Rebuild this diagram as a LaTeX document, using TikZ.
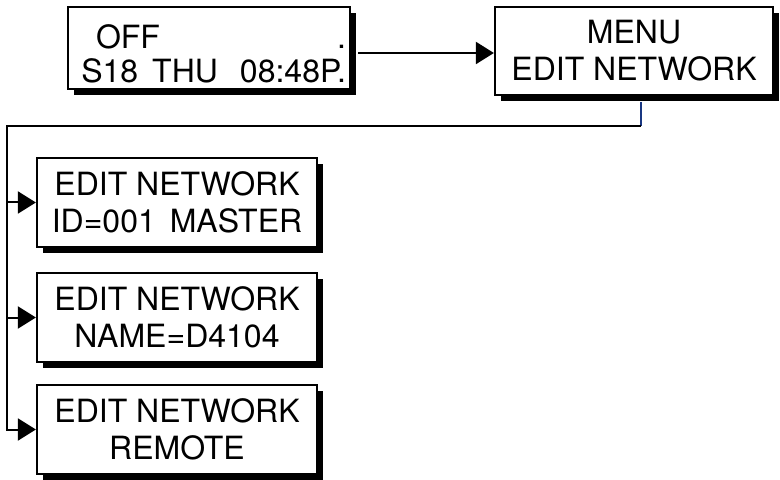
\documentclass[tikz,border=0pt]{standalone}
\usepackage{fontspec}
\setmainfont{TeX Gyre Heros}
\usetikzlibrary{arrows.meta,shadows}
\definecolor{tapblue}{RGB}{25,55,130}
\tikzset{
    screen/.style={draw, line width=1.1pt, fill=white, inner sep=0pt,
        minimum width=140pt, minimum height=44.5pt, align=center,
        font=\fontsize{16}{18.5}\selectfont,
        drop shadow={shadow xshift=3pt, shadow yshift=-3pt, fill=black, opacity=1}},
    flow/.style={line width=1pt, -{Triangle[length=9pt,width=11pt]}}
}
\begin{document}
\begin{tikzpicture}[x=0.5pt,y=-0.5pt]
            \useasboundingbox (0,0) rectangle (780,480);
            \node[screen, minimum width=141pt, minimum height=41pt, align=right, text width=137pt,
                inner xsep=1.5pt, font=\fontsize{16}{17}\selectfont] (idle) at (209,48)
                {\rule{0pt}{17.5pt}\hspace*{12pt}OFF\hfill.\hspace*{8pt}\\S18\hspace{7pt}THU\hspace{11pt}08:48P.};
            \node[screen, minimum width=139pt, minimum height=44pt] (menu) at (634,51) {MENU\\EDIT NETWORK};
            \node[screen] (netid) at (177,202.5) {EDIT NETWORK\\ID=001\hspace{7pt}MASTER};
            \node[screen] (netname) at (177,317.5) {EDIT NETWORK\\NAME=D4104};
            \node[screen] (remote) at (177,429.5) {EDIT NETWORK\\REMOTE};
            \coordinate (tap) at (641,126);
            \coordinate (trunk) at (7,126);
            \draw[flow] ([shift={(3.5pt,-2.5pt)}]idle.east) -- ([yshift=-2.5pt]idle.east -| menu.west);
            \draw[tapblue, line width=1pt] ([yshift=-3pt]menu.south -| tap) -- (tap);
            \draw[flow] (tap) -- (trunk) |- (remote.west);
            \draw[flow] (trunk |- netid.west) -- (netid.west);
            \draw[flow] (trunk |- netname.west) -- (netname.west);
        \end{tikzpicture}
\end{document}
